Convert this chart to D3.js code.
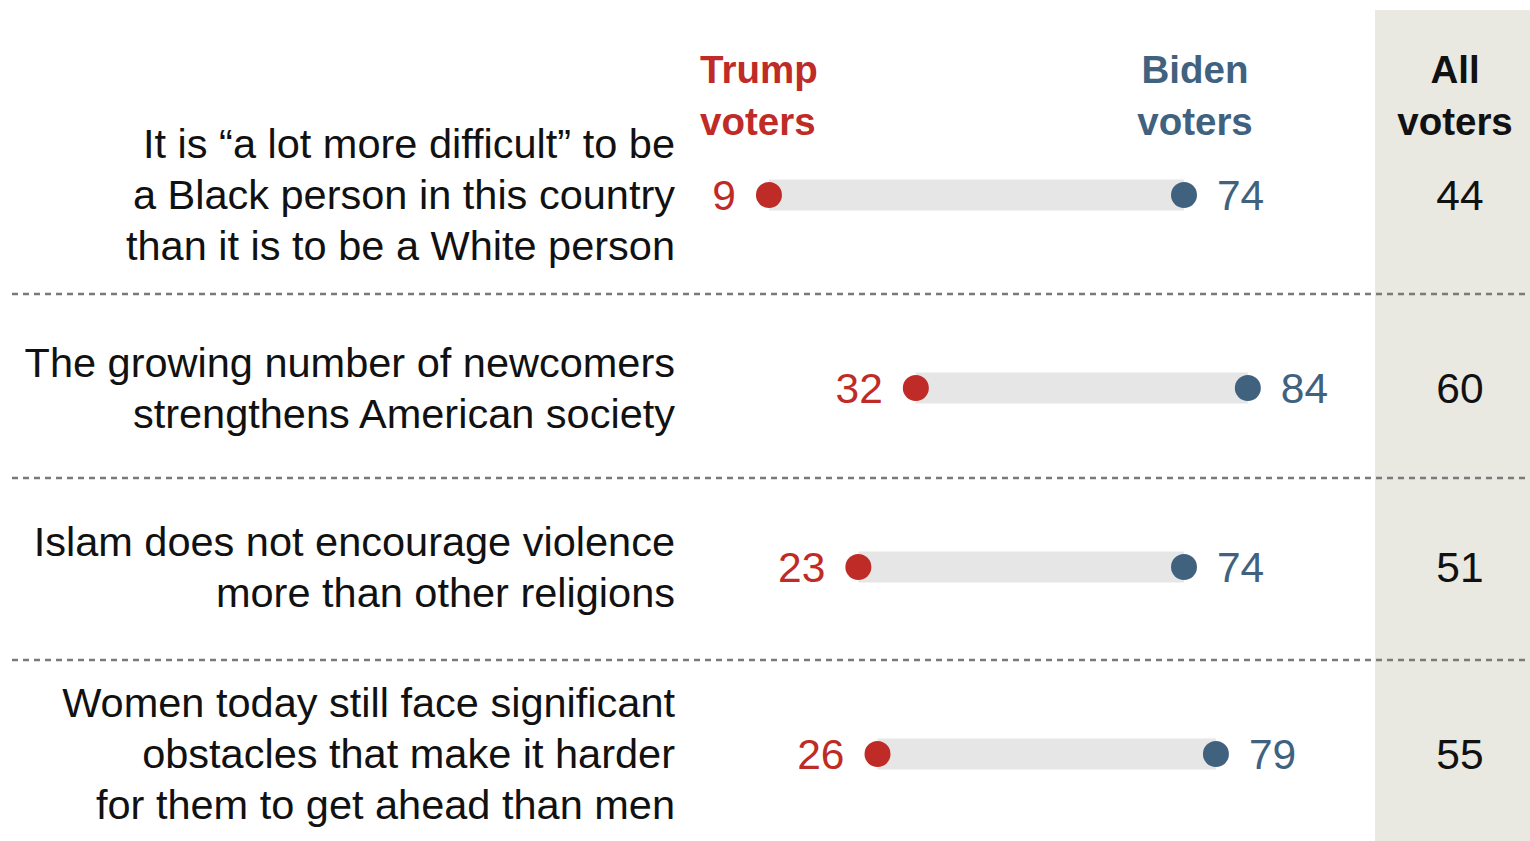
<!DOCTYPE html>
<html><head><meta charset="utf-8">
<script src="https://cdn.jsdelivr.net/npm/d3@7"></script>
<style>body{margin:0;background:#fff;}svg{display:block;}</style>
</head><body>
<svg id="chart" width="1530" height="841"></svg>
<script>
const categories = [
  ["It is \u201ca lot more difficult\u201d to be", "a Black person in this country", "than it is to be a White person"],
  ["The growing number of newcomers", "strengthens American society"],
  ["Islam does not encourage violence", "more than other religions"],
  ["Women today still face significant", "obstacles that make it harder", "for them to get ahead than men"]
];
const trumpValues = [9, 32, 23, 26];
const bidenValues = [74, 84, 74, 79];
const allValues = [44, 60, 51, 55];

const red = "#bf2b26", blue = "#41627f";
const svg = d3.select("#chart");
const W = 1530, H = 841;

const x = d3.scaleLinear().domain([0, 100]).range([711.5, 711.5 + 638.5]);
const y = d3.scaleOrdinal().domain(d3.range(4)).range([195, 388, 567, 754]);
const sepY = [294, 478, 660];

// All voters column background
svg.append("rect").attr("x", 1375).attr("y", 10).attr("width", W - 1375).attr("height", H - 10).attr("fill", "#e9e8e1");

// separators
svg.selectAll("line.sep").data(sepY).join("line")
  .attr("x1", 12).attr("x2", 1525).attr("y1", d => d).attr("y2", d => d)
  .attr("stroke", "#7a7a7a").attr("stroke-width", 2.5).attr("stroke-dasharray", "6,5");

const labelFont = "'Liberation Sans', Arial, sans-serif";

// category labels
const lh = 51;
categories.forEach((lines, i) => {
  const cy = y(i);
  const t = svg.append("text").attr("text-anchor", "end").attr("font-family", labelFont)
    .attr("font-size", 41.5).attr("fill", "#111");
  lines.forEach((ln, j) => {
    t.append("tspan").attr("x", 675).attr("y", cy + (j - (lines.length - 1) / 2) * lh + 14).text(ln);
  });
});

// headers
const hdr = [
  {lines: ["Trump", "voters"], x: 700, anchor: "start", color: red},
  {lines: ["Biden", "voters"], x: 1195, anchor: "middle", color: blue},
  {lines: ["All", "voters"], x: 1455, anchor: "middle", color: "#111"}
];
hdr.forEach(h => {
  const t = svg.append("text").attr("text-anchor", h.anchor).attr("font-family", labelFont)
    .attr("font-weight", "bold").attr("font-size", 38.5).attr("fill", h.color);
  h.lines.forEach((ln, j) => t.append("tspan").attr("x", h.x).attr("y", 83 + j * 52).text(ln));
});

// bars
const rows = d3.range(4);
svg.selectAll("rect.bar").data(rows).join("rect")
  .attr("x", i => x(trumpValues[i])).attr("width", i => x(bidenValues[i]) - x(trumpValues[i]))
  .attr("y", i => y(i) - 15.5).attr("height", 31).attr("fill", "#e6e6e6");

svg.selectAll("circle.t").data(rows).join("circle")
  .attr("cx", i => x(trumpValues[i])).attr("cy", i => y(i)).attr("r", 13).attr("fill", red);
svg.selectAll("circle.b").data(rows).join("circle")
  .attr("cx", i => x(bidenValues[i])).attr("cy", i => y(i)).attr("r", 13).attr("fill", blue);

const numFont = "'Liberation Sans', Arial, sans-serif";
svg.selectAll("text.tv").data(rows).join("text")
  .attr("x", i => x(trumpValues[i]) - 33).attr("y", i => y(i) + 15)
  .attr("text-anchor", "end").attr("font-family", numFont).attr("font-size", 42.5).attr("fill", red)
  .text(i => trumpValues[i]);
svg.selectAll("text.bv").data(rows).join("text")
  .attr("x", i => x(bidenValues[i]) + 33).attr("y", i => y(i) + 15)
  .attr("text-anchor", "start").attr("font-family", numFont).attr("font-size", 42.5).attr("fill", blue)
  .text(i => bidenValues[i]);
svg.selectAll("text.av").data(rows).join("text")
  .attr("x", 1460).attr("y", i => y(i) + 15)
  .attr("text-anchor", "middle").attr("font-family", numFont).attr("font-size", 42.5).attr("fill", "#111")
  .text(i => allValues[i]);
</script>
</body></html>
